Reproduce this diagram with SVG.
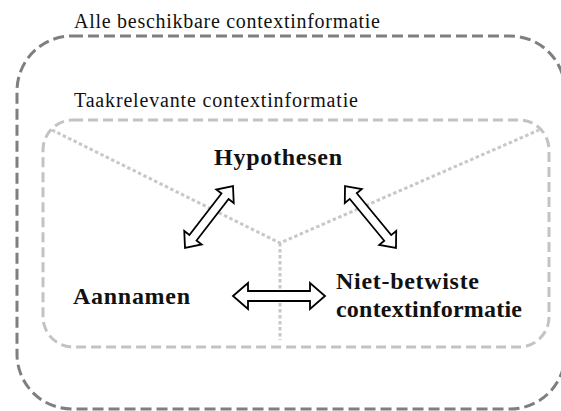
<svg xmlns="http://www.w3.org/2000/svg" width="561" height="411" viewBox="0 0 561 411">
<style>
.outer{fill:none;stroke:#7f7f7f;stroke-width:3;stroke-dasharray:11 5}
.inner{fill:none;stroke:#c3c3c3;stroke-width:3;stroke-dasharray:10 5}
.dot{fill:none;stroke:#c8c8c8;stroke-width:3;stroke-dasharray:3.5 2.5}
.arr{fill:#fff;stroke:#000;stroke-width:1.8;stroke-linejoin:miter}
.lbl{font-family:"Liberation Serif","Times New Roman",serif;font-size:20px;fill:#111}
.node{font-family:"Liberation Serif","Times New Roman",serif;font-size:24px;font-weight:bold;fill:#111}
</style>
<rect width="561" height="411" fill="#fff"/>
<g id="alle">
<rect class="outer" x="17" y="36" width="548" height="373" rx="55" ry="55"/>
<text class="lbl" x="74" y="28" textLength="306" lengthAdjust="spacing">Alle beschikbare contextinformatie</text>
</g>
<g id="taakrelevant">
<rect class="inner" x="43" y="120" width="506" height="227" rx="30" ry="30"/>
<text class="lbl" x="74" y="107" textLength="284" lengthAdjust="spacing">Taakrelevante contextinformatie</text>
</g>
<g id="dividers">
<polyline class="dot" points="52,130 280,243 539,130"/>
<line class="dot" x1="280" y1="243" x2="280" y2="340"/>
</g>
<g id="connectors">
<path class="arr" transform="translate(209,217) rotate(-52.25)" d="M-39.2,0 L-26.2,-11 L-26.2,-4.5 L26.2,-4.5 L26.2,-11 L39.2,0 L26.2,11 L26.2,4.5 L-26.2,4.5 L-26.2,11 Z"/>
<path class="arr" transform="translate(370.5,217) rotate(50.56)" d="M-40.1,0 L-27.1,-11 L-27.1,-4.5 L27.1,-4.5 L27.1,-11 L40.1,0 L27.1,11 L27.1,4.5 L-27.1,4.5 L-27.1,11 Z"/>
<path class="arr" transform="translate(279,296)" d="M-46,0 L-31,-13 L-31,-5 L31,-5 L31,-13 L46,0 L31,13 L31,5 L-31,5 L-31,13 Z"/>
</g>
<g id="hypothesen">
<text class="node" x="214" y="165" textLength="128" lengthAdjust="spacing">Hypothesen</text>
</g>
<g id="aannamen">
<text class="node" x="73" y="304" textLength="117" lengthAdjust="spacing">Aannamen</text>
</g>
<g id="nietbetwist">
<text class="node" x="336" y="289" textLength="143" lengthAdjust="spacing">Niet-betwiste</text>
<text class="node" x="336" y="317" textLength="186" lengthAdjust="spacing">contextinformatie</text>
</g>
</svg>
